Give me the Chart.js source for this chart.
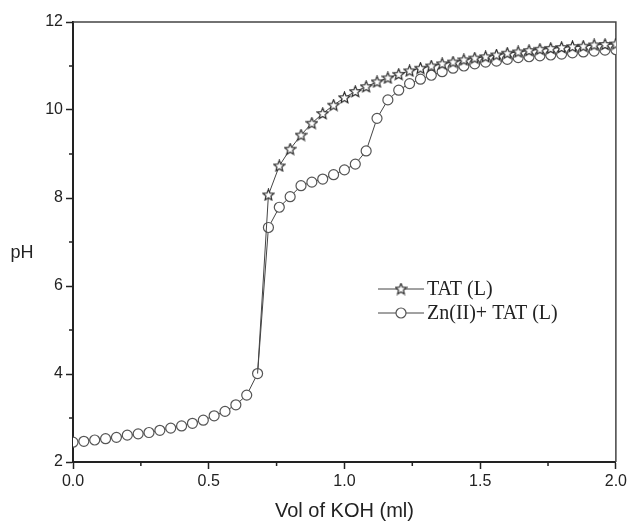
<!DOCTYPE html>
<html>
<head>
<meta charset="utf-8">
<script src="https://cdn.jsdelivr.net/npm/chart.js@4/dist/chart.umd.min.js"></script>
<style>
  body { margin: 0; background: #fff; }
  canvas { display: block; }
</style>
</head>
<body>
<canvas id="phChart" width="630" height="523"></canvas>
<script>
// titration data
const seriesNames = ["TAT (L)", "Zn(II)+ TAT (L)"];

const volZn = [0.00, 0.04, 0.08, 0.12, 0.16, 0.20, 0.24, 0.28, 0.32, 0.36, 0.40, 0.44, 0.48, 0.52, 0.56, 0.60, 0.64, 0.68,
  0.72, 0.76, 0.80, 0.84, 0.88, 0.92, 0.96, 1.00, 1.04, 1.08, 1.12, 1.16, 1.20, 1.24, 1.28, 1.32, 1.36, 1.40,
  1.44, 1.48, 1.52, 1.56, 1.60, 1.64, 1.68, 1.72, 1.76, 1.80, 1.84, 1.88, 1.92, 1.96, 2.00];
const phZn = [2.45, 2.47, 2.50, 2.53, 2.56, 2.61, 2.64, 2.67, 2.72, 2.77, 2.82, 2.88, 2.95, 3.05, 3.15, 3.30, 3.52, 4.01,
  7.33, 7.79, 8.03, 8.28, 8.36, 8.43, 8.53, 8.64, 8.77, 9.07, 9.81, 10.23, 10.45, 10.60, 10.70, 10.79, 10.87, 10.95,
  11.00, 11.05, 11.09, 11.11, 11.15, 11.19, 11.21, 11.23, 11.25, 11.27, 11.30, 11.32, 11.34, 11.36, 11.37];

const volTat = [0.68, 0.72, 0.76, 0.80, 0.84, 0.88, 0.92, 0.96, 1.00, 1.04, 1.08, 1.12, 1.16, 1.20, 1.24, 1.28, 1.32,
  1.36, 1.40, 1.44, 1.48, 1.52, 1.56, 1.60, 1.64, 1.68, 1.72, 1.76, 1.80, 1.84, 1.88, 1.92, 1.96, 2.00];
const phTat = [4.01, 8.07, 8.73, 9.11, 9.43, 9.70, 9.92, 10.11, 10.28, 10.42, 10.53, 10.64, 10.73, 10.81, 10.89, 10.95, 11.00,
  11.05, 11.09, 11.14, 11.18, 11.21, 11.25, 11.29, 11.32, 11.35, 11.38, 11.40, 11.42, 11.44, 11.45, 11.48, 11.49, 11.50];

const xTicks = [0, 0.5, 1.0, 1.5, 2.0];
const yTicks = [2, 4, 6, 8, 10, 12];
const xMinor = [0.25, 0.75, 1.25, 1.75];
const yMinor = [3, 5, 7, 9, 11];

function toPoints(xs, ys) {
  return xs.map((x, i) => ({ x: x, y: ys[i] }));
}

// outlined five point star used as marker
function makeStar() {
  const c = document.createElement("canvas");
  c.width = 13;
  c.height = 13;
  const g = c.getContext("2d");
  g.beginPath();
  for (let i = 0; i < 10; i++) {
    const r = i % 2 === 0 ? 5.8 : 2.6;
    const a = -Math.PI / 2 + i * Math.PI / 5;
    const px = 6.5 + r * Math.cos(a);
    const py = 6.8 + r * Math.sin(a);
    if (i === 0) g.moveTo(px, py); else g.lineTo(px, py);
  }
  g.closePath();
  g.fillStyle = "#fff";
  g.fill();
  g.strokeStyle = "#2a2a2a";
  g.lineWidth = 1.2;
  g.stroke();
  return c;
}
const starImg = makeStar();

const framePlugin = {
  id: "frame",
  beforeDatasetsDraw(chart) {
    const { ctx, chartArea: a, scales } = chart;
    ctx.save();
    ctx.strokeStyle = "#444";
    ctx.lineWidth = 1.5;
    ctx.beginPath();
    ctx.moveTo(a.left, a.top);
    ctx.lineTo(a.right, a.top);
    ctx.lineTo(a.right, a.bottom);
    ctx.stroke();
    // minor ticks
    ctx.strokeStyle = "#222";
    ctx.lineWidth = 1.5;
    ctx.beginPath();
    yMinor.forEach(v => {
      const py = scales.y.getPixelForValue(v);
      ctx.moveTo(a.left - 4, py);
      ctx.lineTo(a.left, py);
    });
    xMinor.forEach(v => {
      const px = scales.x.getPixelForValue(v);
      ctx.moveTo(px, a.bottom);
      ctx.lineTo(px, a.bottom + 4);
    });
    ctx.stroke();
    // horizontal y title
    ctx.fillStyle = "#222";
    ctx.font = "18px 'Liberation Sans'";
    ctx.textAlign = "center";
    ctx.textBaseline = "middle";
    ctx.fillText("pH", a.left - 51, (a.top + a.bottom) / 2 + 11);
    ctx.restore();
  },
  afterDraw(chart) {
    const { ctx, chartArea: a } = chart;
    const x0 = a.left + 305;
    let y0 = a.top + 267;
    ctx.save();
    chart.data.datasets.forEach(ds => {
      ctx.strokeStyle = "#444";
      ctx.lineWidth = 1;
      ctx.beginPath();
      ctx.moveTo(x0, y0);
      ctx.lineTo(x0 + 46, y0);
      ctx.stroke();
      if (ds.pointStyle === "circle") {
        ctx.fillStyle = "#fff";
        ctx.strokeStyle = ds.pointBorderColor;
        ctx.lineWidth = ds.pointBorderWidth;
        ctx.beginPath();
        ctx.arc(x0 + 23, y0, 5, 0, Math.PI * 2);
        ctx.fill();
        ctx.stroke();
      } else {
        Chart.helpers.drawPoint(ctx, { pointStyle: ds.pointStyle, radius: 5, rotation: 0 }, x0 + 23, y0);
      }
      ctx.fillStyle = "#222";
      ctx.font = "20px 'Liberation Serif'";
      ctx.textAlign = "left";
      ctx.textBaseline = "middle";
      ctx.fillText(ds.label, x0 + 49, y0 + 1);
      y0 += 24;
    });
    ctx.restore();
  }
};

const chart = new Chart(document.getElementById("phChart").getContext("2d"), {
  type: "line",
  data: {
    datasets: [
      {
        label: seriesNames[0],
        data: toPoints(volTat, phTat),
        borderColor: "#444",
        borderWidth: 1,
        pointStyle: starImg,
        pointRadius: c => (c.dataIndex === 0 ? 0 : 5),
        pointBorderColor: "#333",
        pointBorderWidth: 1,
        pointBackgroundColor: "#fff",
        tension: 0
      },
      {
        label: seriesNames[1],
        data: toPoints(volZn, phZn),
        borderColor: "#444",
        borderWidth: 1,
        pointStyle: "circle",
        pointRadius: 5,
        pointBorderColor: "#555",
        pointBorderWidth: 1.2,
        pointBackgroundColor: "#fff",
        tension: 0
      }
    ]
  },
  options: {
    responsive: false,
    animation: false,
    layout: { padding: { top: 22, right: 13, left: 0, bottom: 0 } },
    plugins: { legend: { display: false }, tooltip: { enabled: false } },
    scales: {
      x: {
        type: "linear",
        min: 0,
        max: 2,
        afterBuildTicks: s => { s.ticks = xTicks.map(v => ({ value: v })); },
        afterFit: s => { s.height = 61; },
        ticks: {
          callback: v => v.toFixed(1),
          color: "#222",
          font: { family: "'Liberation Sans'", size: 16 },
          padding: 3,
          maxRotation: 0
        },
        grid: { drawOnChartArea: false, tickLength: 7, tickWidth: 1.5, tickColor: "#222" },
        border: { color: "#222", width: 2 },
        title: {
          display: true,
          text: "Vol of KOH (ml)",
          color: "#222",
          font: { family: "'Liberation Sans'", size: 20 },
          padding: { top: 7, bottom: 0 }
        }
      },
      y: {
        type: "linear",
        min: 2,
        max: 12,
        afterBuildTicks: s => { s.ticks = yTicks.map(v => ({ value: v })); },
        afterFit: s => { s.width = 73; },
        ticks: {
          color: "#222",
          font: { family: "'Liberation Sans'", size: 16 },
          padding: 3
        },
        grid: { drawOnChartArea: false, tickLength: 7, tickWidth: 1.5, tickColor: "#222" },
        border: { color: "#222", width: 2 }
      }
    }
  },
  plugins: [framePlugin]
});
</script>
</body>
</html>
